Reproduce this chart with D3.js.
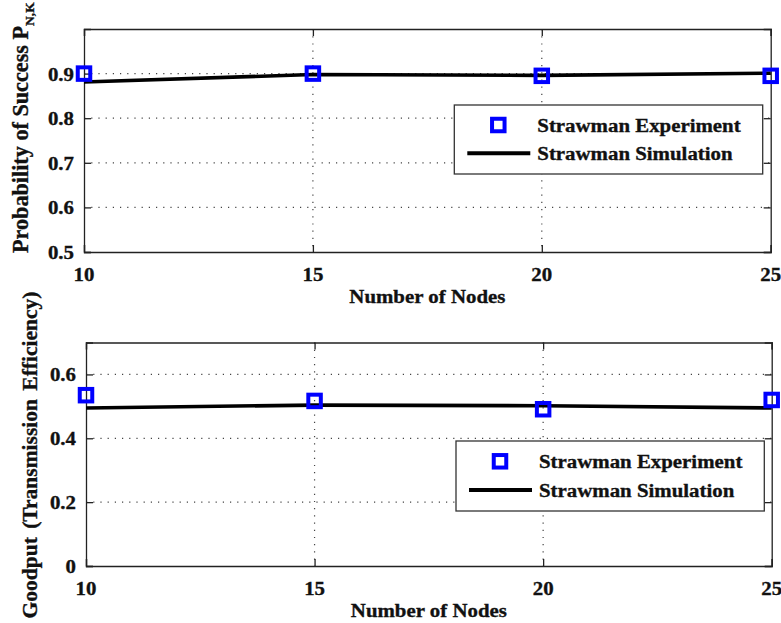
<!DOCTYPE html>
<html>
<head>
<meta charset="utf-8">
<script src="https://cdn.jsdelivr.net/npm/d3@7"></script>
<style>
  html, body { margin: 0; padding: 0; background: #fff; }
  svg { display: block; }
  text { font-family: "Liberation Serif", "Times New Roman", serif; font-weight: bold; fill: #111; stroke: #111; stroke-width: 0.35px; }
</style>
</head>
<body>
<svg id="chart" width="781" height="623"></svg>
<script>
// Node counts on the shared x axis
const nodes = [10, 15, 20, 25];
const xTicks = [10, 15, 20, 25];

// Panel 1: probability of success
const successExperiment = [0.900, 0.900, 0.895, 0.895];
const successSimulation = [0.881, 0.898, 0.896, 0.901];
const successTicks = [0.5, 0.6, 0.7, 0.8, 0.9];

// Panel 2: goodput
const goodputExperiment = [0.535, 0.517, 0.491, 0.520];
const goodputSimulation = [0.495, 0.504, 0.502, 0.495];
const goodputTicks = [0, 0.2, 0.4, 0.6];

const legendLabels = ["Strawman Experiment", "Strawman Simulation"];

const svg = d3.select("#chart");
const FS = 19.5;      // font size
const SX = 1.07;      // horizontal widening of glyphs

function label(g, x, y, str, anchor, rotate, size, sx) {
  const t = g.append("text")
    .attr("transform", `translate(${x},${y})` + (rotate ? ` rotate(${rotate})` : "") + ` scale(${sx || SX},1)`)
    .attr("text-anchor", anchor)
    .style("font-size", (size || FS) + "px");
  if (str !== null) t.text(str);
  return t;
}

function panel(opt) {
  const x = d3.scaleLinear().domain([10, 25]).range([opt.left, opt.right]);
  const y = d3.scaleLinear().domain(opt.yDomain).range([opt.bottom, opt.top]);
  const g = svg.append("g");

  // dotted grid
  const grid = g.append("g").attr("stroke", "#444").attr("stroke-width", 1.2)
    .attr("stroke-dasharray", "1.2,6");
  grid.selectAll("line.v").data(xTicks.slice(1, -1)).join("line")
    .attr("x1", d => x(d)).attr("x2", d => x(d))
    .attr("y1", opt.top).attr("y2", opt.bottom);
  grid.selectAll("line.h").data(opt.yTicks.filter(d => d !== opt.yDomain[0])).join("line")
    .attr("x1", opt.left).attr("x2", opt.right)
    .attr("y1", d => y(d)).attr("y2", d => y(d));

  // axes with inward ticks on all four sides
  const tl = 7;
  const fmt = opt.yFormat;
  const axB = g.append("g").attr("transform", `translate(0,${opt.bottom})`)
    .call(d3.axisBottom(x).tickValues(xTicks).tickSize(-tl).tickFormat(""));
  const axT = g.append("g").attr("transform", `translate(0,${opt.top})`)
    .call(d3.axisTop(x).tickValues(xTicks).tickSize(-tl).tickFormat(""));
  const axL = g.append("g").attr("transform", `translate(${opt.left},0)`)
    .call(d3.axisLeft(y).tickValues(opt.yTicks).tickSize(-tl).tickFormat(""));
  const axR = g.append("g").attr("transform", `translate(${opt.right},0)`)
    .call(d3.axisRight(y).tickValues(opt.yTicks).tickSize(-tl).tickFormat(""));
  [axB, axT, axL, axR].forEach(a => {
    a.select(".domain").attr("stroke", "#222").attr("stroke-width", 1.3);
    a.selectAll(".tick line").attr("stroke", "#222").attr("stroke-width", 1.3);
  });

  // tick labels
  xTicks.forEach(v => label(g, x(v), opt.bottom + 29, String(v), "middle"));
  opt.yTicks.forEach(v => label(g, opt.left - 10, y(v) + 7, fmt(v), "end"));

  // axis titles
  label(g, (opt.left + opt.right) / 2, opt.bottom + 51, "Number of Nodes", "middle");
  opt.yTitle(g);

  // simulation line
  const line = d3.line().x((d, i) => x(nodes[i])).y(d => y(d));
  g.append("path").datum(opt.sim).attr("d", line)
    .attr("fill", "none").attr("stroke", "#000").attr("stroke-width", 3.6)
    .attr("stroke-linejoin", "round");

  // experiment markers
  const ms = 12.5;
  g.selectAll("rect.m").data(opt.exp).join("rect")
    .attr("x", (d, i) => x(nodes[i]) - ms / 2).attr("y", d => y(d) - ms / 2)
    .attr("width", ms).attr("height", ms)
    .attr("fill", "none").attr("stroke", "#0000ff").attr("stroke-width", 4);

  // legend
  const L = opt.legend;
  const lg = g.append("g");
  lg.append("rect").attr("x", L.x0).attr("y", L.y0)
    .attr("width", L.x1 - L.x0).attr("height", L.y1 - L.y0)
    .attr("fill", "#fff").attr("stroke", "#333").attr("stroke-width", 1.3);
  const r1 = L.y0 + (L.y1 - L.y0) * 0.29, r2 = L.y0 + (L.y1 - L.y0) * 0.70;
  lg.append("rect").attr("x", L.x0 + 44 - ms / 2).attr("y", r1 - ms / 2)
    .attr("width", ms).attr("height", ms)
    .attr("fill", "none").attr("stroke", "#0000ff").attr("stroke-width", 4);
  lg.append("line").attr("x1", L.x0 + 13).attr("x2", L.x0 + 76)
    .attr("y1", r2).attr("y2", r2).attr("stroke", "#000").attr("stroke-width", 4);
  label(lg, L.x0 + 83, r1 + 7, legendLabels[0], "start");
  label(lg, L.x0 + 83, r2 + 7, legendLabels[1], "start");
}

panel({
  left: 84, right: 770.7, top: 29, bottom: 252,
  yDomain: [0.5, 1.0], yTicks: successTicks, yFormat: d3.format(".1f"),
  exp: successExperiment, sim: successSimulation,
  legend: { x0: 454.3, x1: 762.7, y0: 105, y1: 174 },
  yTitle: g => {
    const t = label(g, 28, 253, null, "start", -90, 22.2, 1.0);
    t.append("tspan").text("Probability of Success P");
    t.append("tspan").attr("dy", 6).style("font-size", "13.5px").text("N,K");
  }
});

panel({
  left: 86, right: 771.7, top: 342.5, bottom: 566,
  yDomain: [0, 0.7], yTicks: goodputTicks, yFormat: d => d === 0 ? "0" : d3.format(".1f")(d),
  exp: goodputExperiment, sim: goodputSimulation,
  legend: { x0: 456, x1: 764.3, y0: 441, y1: 511 },
  yTitle: g => {
    label(g, 37, 455, "Goodput (Transmission Efficiency)", "middle", -90, 21.5, 1.0)
      .attr("word-spacing", 3);
  }
});
</script>
</body>
</html>
